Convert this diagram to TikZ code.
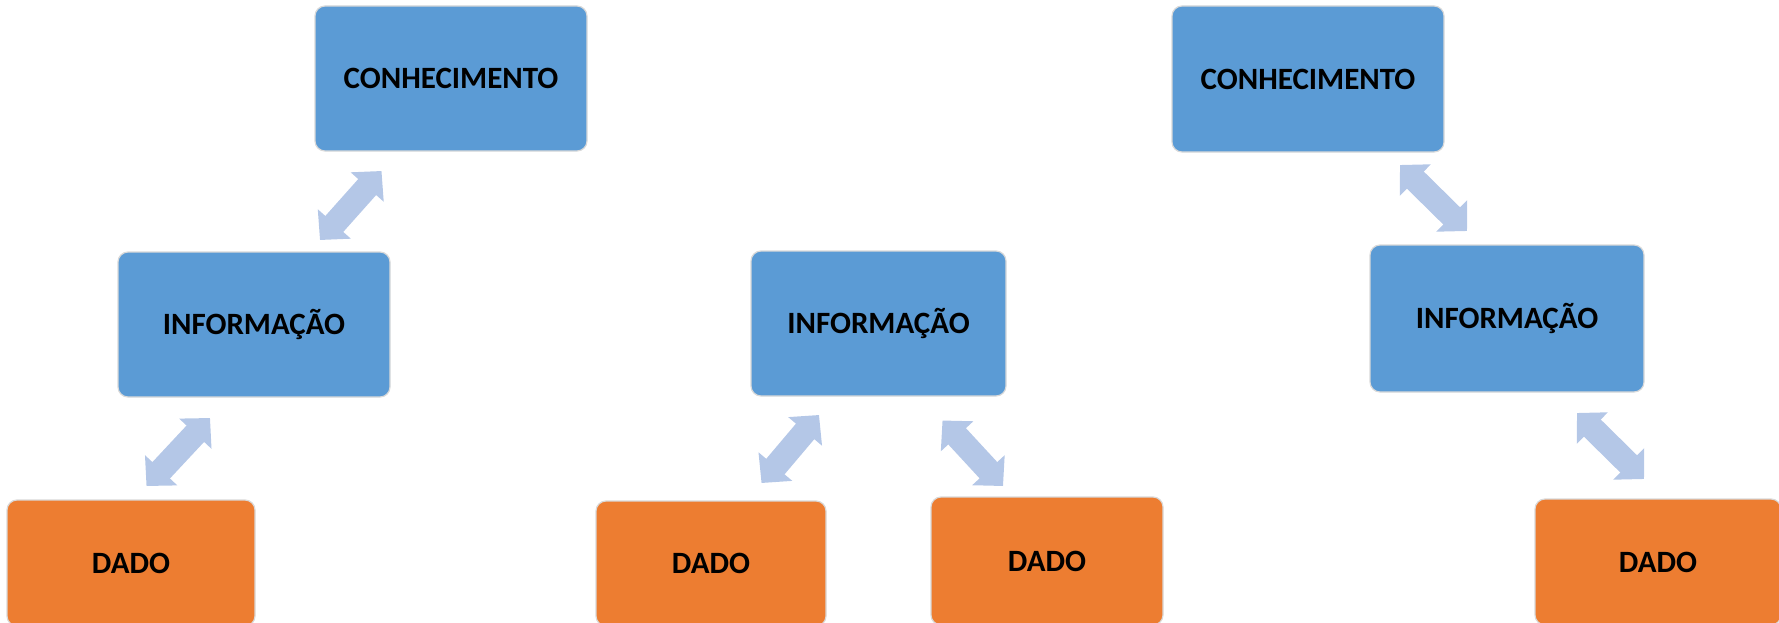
\documentclass[tikz,border=0pt]{standalone}
\usepackage{fontspec}
\setmainfont{Carlito}
\usetikzlibrary{arrows.meta}
\definecolor{boxblue}{HTML}{5B9BD5}
\definecolor{boxorange}{HTML}{ED7D31}
\definecolor{arrowblue}{HTML}{B4C7E7}
\definecolor{edgegray}{HTML}{D9D9D9}
\tikzset{
  basebox/.style={rectangle, rounded corners=10pt, draw=edgegray, line width=1.2pt,
    inner sep=0pt, font=\fontsize{31}{37}\selectfont\bfseries, text=black},
  bluebox/.style={basebox, fill=boxblue},
  orangebox/.style={basebox, fill=boxorange},
  dblarrow/.style={draw=arrowblue, line width=24pt,
    {Triangle[width=43pt,length=21.5pt]}-{Triangle[width=43pt,length=21.5pt]}}
}
\begin{document}
\begin{tikzpicture}[x=1pt,y=-1pt]
\useasboundingbox (0,0) rectangle (1779,623);
% left group
\node[bluebox, minimum width=272pt, minimum height=145pt] (c1) at (451,78.5) {CONHECIMENTO};
\node[bluebox, minimum width=272pt, minimum height=145pt] (i1) at (254,324.5) {INFORMAÇÃO};
\node[orangebox, minimum width=248pt, minimum height=126pt] (d1) at (131,563) {DADO};
% middle group
\node[bluebox, minimum width=255pt, minimum height=145pt] (i2) at (878.5,323.5) {INFORMAÇÃO};
\node[orangebox, minimum width=230pt, minimum height=125pt] (d2) at (711,563.5) {DADO};
\node[orangebox, minimum width=232pt, minimum height=128pt] (d3) at (1047,561) {DADO};
% right group
\node[bluebox, minimum width=272pt, minimum height=146pt] (c2) at (1308,79) {CONHECIMENTO};
\node[bluebox, minimum width=274pt, minimum height=147pt] (i3) at (1507,318.5) {INFORMAÇÃO};
\node[orangebox, minimum width=246pt, minimum height=126pt] (d4) at (1658,562) {DADO};
% arrow end points
\coordinate (a1s) at (320,240);   \coordinate (a1e) at (381.5,171);
\coordinate (a2s) at (146.5,486); \coordinate (a2e) at (210,418);
\coordinate (a3s) at (761.5,483); \coordinate (a3e) at (819,415);
\coordinate (a4s) at (942.5,420.5); \coordinate (a4e) at (1003,486);
\coordinate (a5s) at (1400,165);  \coordinate (a5e) at (1467,231);
\coordinate (a6s) at (1577,413);  \coordinate (a6e) at (1644,479);
\draw[dblarrow] (a1s) -- (a1e);
\draw[dblarrow] (a2s) -- (a2e);
\draw[dblarrow] (a3s) -- (a3e);
\draw[dblarrow] (a4s) -- (a4e);
\draw[dblarrow] (a5s) -- (a5e);
\draw[dblarrow] (a6s) -- (a6e);
\end{tikzpicture}
\end{document}
